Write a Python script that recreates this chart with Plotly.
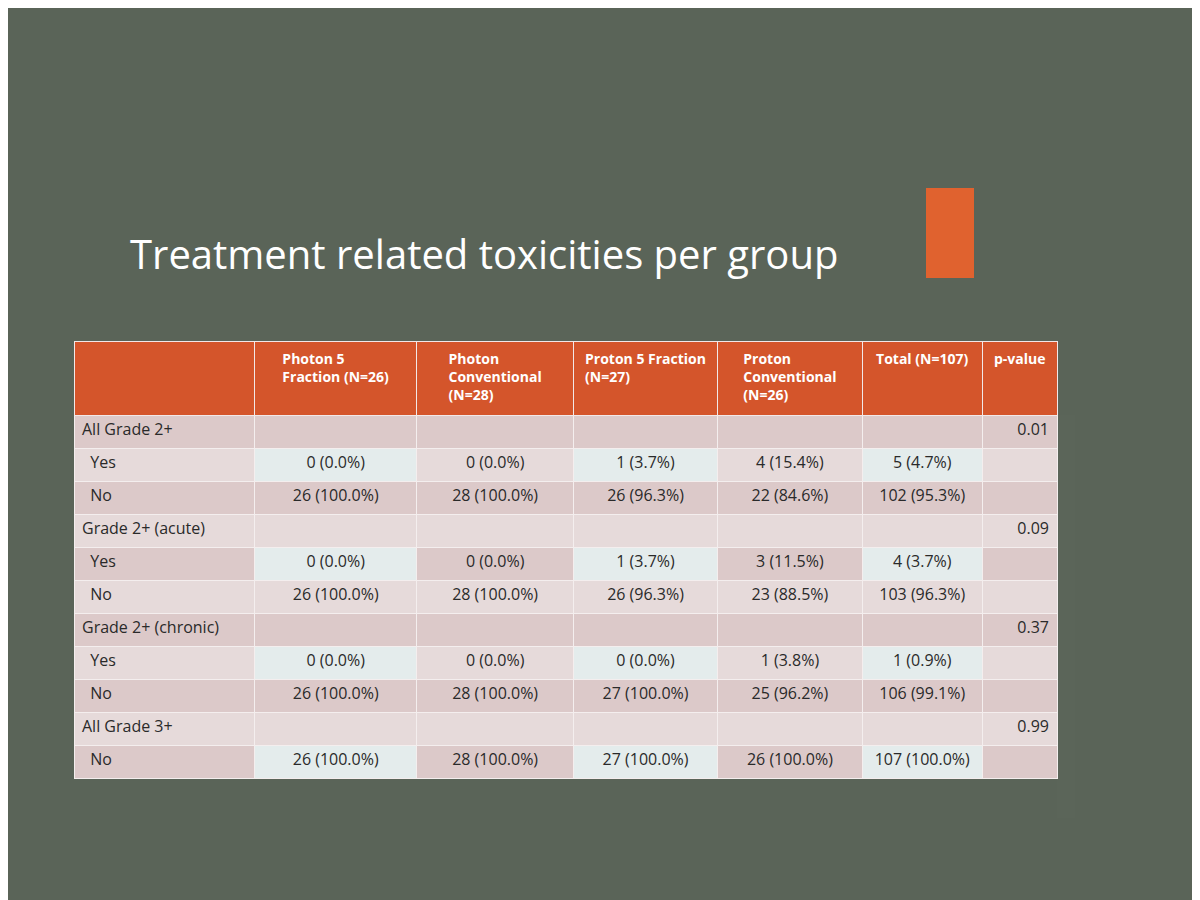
import plotly.graph_objects as go

headers = ["", "<b>Photon 5<br>Fraction (N=26)</b>", "<b>Photon<br>Conventional<br>(N=28)</b>",
           "<b>Proton 5 Fraction<br>(N=27)</b>", "<b>Proton<br>Conventional<br>(N=26)</b>",
           "<b>Total (N=107)</b>", "<b>p-value</b>"]
row_labels = ["All Grade 2+", "  Yes", "  No", "Grade 2+ (acute)", "  Yes", "  No",
              "Grade 2+ (chronic)", "  Yes", "  No", "All Grade 3+", "  No"]
photon5 = ["", "0 (0.0%)", "26 (100.0%)", "", "0 (0.0%)", "26 (100.0%)", "", "0 (0.0%)", "26 (100.0%)", "", "26 (100.0%)"]
photon_conv = ["", "0 (0.0%)", "28 (100.0%)", "", "0 (0.0%)", "28 (100.0%)", "", "0 (0.0%)", "28 (100.0%)", "", "28 (100.0%)"]
proton5 = ["", "1 (3.7%)", "26 (96.3%)", "", "1 (3.7%)", "26 (96.3%)", "", "0 (0.0%)", "27 (100.0%)", "", "27 (100.0%)"]
proton_conv = ["", "4 (15.4%)", "22 (84.6%)", "", "3 (11.5%)", "23 (88.5%)", "", "1 (3.8%)", "25 (96.2%)", "", "26 (100.0%)"]
total = ["", "5 (4.7%)", "102 (95.3%)", "", "4 (3.7%)", "103 (96.3%)", "", "1 (0.9%)", "106 (99.1%)", "", "107 (100.0%)"]
pvalues = ["0.01", "", "", "0.09", "", "", "0.37", "", "", "0.99", ""]

n = len(row_labels)
rowc = ["#dcc9c9" if i % 2 == 0 else "#e6dada" for i in range(n)]
light = ["#e4ecec" if i % 3 == 1 else c for i, c in enumerate(rowc)]
fills = [rowc, light, rowc, light, rowc, light, rowc]

fig = go.Figure(go.Table(
    domain=dict(x=[0.055, 0.875], y=[0.10, 0.63]),
    columnwidth=[1.5, 1.35, 1.3, 1.2, 1.2, 1.0, 0.62],
    header=dict(values=headers, fill_color="#d4552b", line_color="#f2e8e8",
                font=dict(color="white", size=14, family="Open Sans"), align=["center"] * 7, height=74),
    cells=dict(values=[row_labels, photon5, photon_conv, proton5, proton_conv, total, pvalues],
               fill_color=fills, line_color="#f4eeee",
               font=dict(color="#2a2a2a", size=16, family="Open Sans"),
               align=["left", "center", "center", "center", "center", "center", "right"], height=33)))

fig.add_shape(type="rect", xref="paper", yref="paper", x0=0.765, x1=0.805, y0=0.70, y1=0.80,
              fillcolor="#e0622f", line_width=0)
fig.add_annotation(text="Treatment related toxicities per group", xref="paper", yref="paper",
                   x=0.10, y=0.76, xanchor="left", showarrow=False,
                   font=dict(size=40, color="white", family="Open Sans"))
fig.update_layout(width=1200, height=900, margin=dict(l=0, r=0, t=0, b=0),
                  paper_bgcolor="#5a6458", plot_bgcolor="#5a6458")
fig.write_html("out.html")
